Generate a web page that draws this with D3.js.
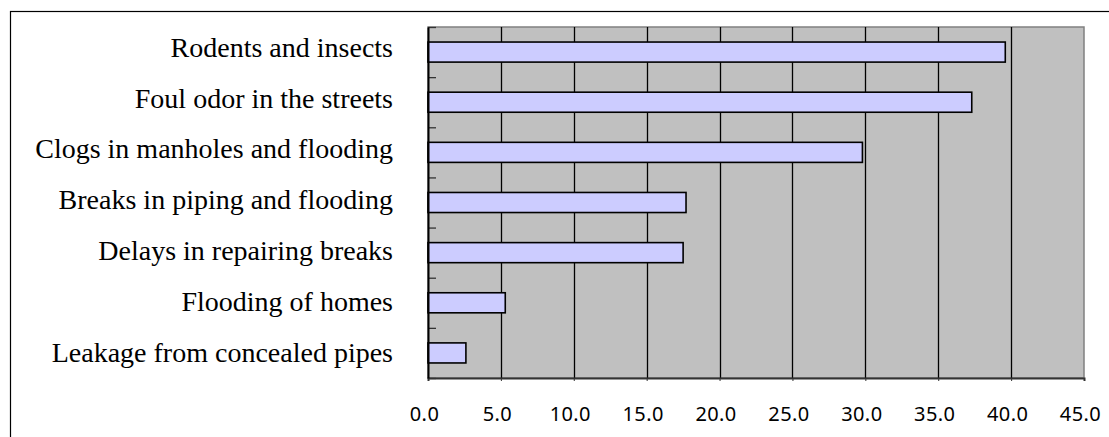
<!DOCTYPE html>
<html>
<head>
<meta charset="utf-8">
<script src="https://cdn.jsdelivr.net/npm/d3@7"></script>
<style>
  body { margin: 0; background: #fff; }
  svg { display: block; }
</style>
</head>
<body>
<svg id="chart" width="1109" height="437"></svg>
<script>
// data
var categories = [
  "Rodents and insects",
  "Foul odor in the streets",
  "Clogs in manholes and flooding",
  "Breaks in piping and flooding",
  "Delays in repairing breaks",
  "Flooding of homes",
  "Leakage from concealed pipes"
];
var values = [39.6, 37.3, 29.8, 17.7, 17.5, 5.3, 2.6];
var xTicks = [0, 5, 10, 15, 20, 25, 30, 35, 40, 45];

var margin = {top: 27, left: 428},
    width = 656,
    height = 351;

var svg = d3.select("#chart");

// outer frame (runs off the right and bottom edges)
svg.append("rect")
  .attr("x", 10.5).attr("y", 11.5)
  .attr("width", 1300).attr("height", 600)
  .attr("fill", "none")
  .attr("stroke", "#000")
  .attr("stroke-width", 1.2);

var g = svg.append("g")
  .attr("transform", "translate(" + margin.left + "," + margin.top + ")");

var x = d3.scaleLinear().domain([0, 45]).range([0, width]);
var y = d3.scaleBand()
  .domain(categories)
  .range([0, height])
  .paddingInner(0.6)
  .paddingOuter(0.3);

// plot background
g.append("rect")
  .attr("width", width).attr("height", height)
  .attr("fill", "#c0c0c0")
  .attr("stroke", "#808080")
  .attr("stroke-width", 1.5);

// vertical gridlines
g.selectAll(".grid")
  .data(xTicks.slice(1, -1))
  .enter().append("line")
  .attr("class", "grid")
  .attr("x1", function(d) { return Math.round(x(d)) + 0.5; })
  .attr("x2", function(d) { return Math.round(x(d)) + 0.5; })
  .attr("y1", 0)
  .attr("y2", height)
  .attr("stroke", "#000")
  .attr("stroke-width", 1.3);

// bars
g.selectAll(".bar")
  .data(values)
  .enter().append("rect")
  .attr("class", "bar")
  .attr("x", x(0))
  .attr("y", function(d, i) { return y(categories[i]); })
  .attr("width", function(d) { return x(d) - x(0); })
  .attr("height", y.bandwidth())
  .attr("fill", "#ccccff")
  .attr("stroke", "#000")
  .attr("stroke-width", 1.6);

// x axis
var xAxis = d3.axisBottom(x)
  .tickValues(xTicks)
  .tickSize(3)
  .tickFormat(d3.format(".1f"));

var gx = g.append("g")
  .attr("transform", "translate(0," + height + ")")
  .call(xAxis);
gx.select(".domain").attr("stroke", "#333").attr("stroke-width", 2);
gx.selectAll(".tick line").attr("stroke", "#333");
gx.selectAll("text")
  .attr("y", 43)
  .attr("dy", 0)
  .attr("dx", -4)
  .attr("fill", "#000")
  .style("font-family", "'Noto Sans', sans-serif")
  .style("font-size", "20px")
  .style("letter-spacing", "0.4px");

// y axis ticks at the band edges, pointing inwards
var yEdge = d3.scaleLinear().domain([0, categories.length]).range([0, height]);
var yTickAxis = d3.axisRight(yEdge)
  .ticks(categories.length)
  .tickSize(8)
  .tickFormat("");
var gyt = g.append("g").call(yTickAxis);
gyt.select(".domain").remove();
gyt.selectAll(".tick line").attr("stroke", "#333").attr("stroke-width", 1.3);

// y axis line and labels
var yAxis = d3.axisLeft(y).tickSize(0).tickPadding(35);
var gy = g.append("g").call(yAxis);
gy.select(".domain").attr("stroke", "#000").attr("stroke-width", 2);
// labels sit a little lower as you go down the list
gy.selectAll("text")
  .attr("dy", function(d, i) { return 4.6 + i * 0.7; })
  .attr("fill", "#000")
  .style("font-family", "'Liberation Serif', 'Times New Roman', serif")
  .style("font-size", "28px");
</script>
</body>
</html>
